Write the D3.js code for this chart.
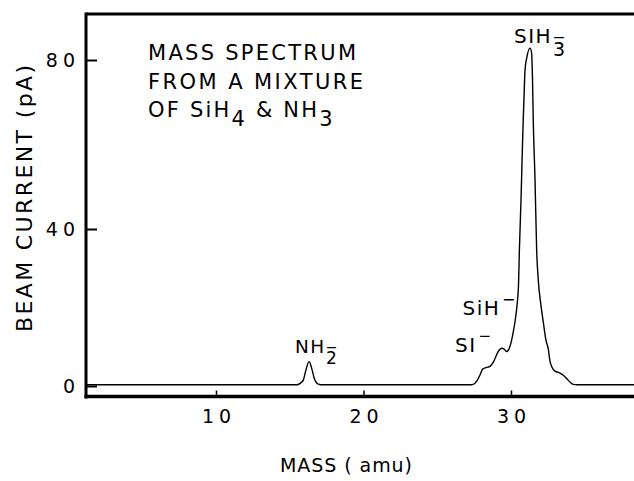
<!DOCTYPE html>
<html><head><meta charset="utf-8">
<script src="https://cdn.jsdelivr.net/npm/d3@7"></script>
<style>
html,body{margin:0;padding:0;background:#fff;}
svg{display:block;}
text{font-family:"DejaVu Sans",sans-serif;fill:#000;}
</style></head><body>
<svg id="chart" width="634" height="481"></svg>
<script>
// ---- data ----
const massTicks = [10, 20, 30];
const currentTicks = [0, 40, 80];
const mass = [1.2, 8, 15.5, 15.75, 15.92, 16.10, 16.31, 16.49, 16.66, 16.94, 17.2, 22, 27.3,
  27.44, 27.69, 27.90, 28.08, 28.31, 28.58, 28.85, 29.12, 29.37, 29.53, 29.71, 29.86, 30.00,
  30.14, 30.27, 30.41, 30.51, 30.57, 30.68, 30.77, 30.83, 30.90, 30.95, 31.08, 31.29, 31.40,
  31.46, 31.51, 31.63, 31.74, 31.85, 32.03, 32.19, 32.37, 32.53, 32.64, 32.78, 32.98, 33.32,
  33.59, 33.80, 34.00, 34.22, 34.50, 38.4];
const current = [0.3, 0.3, 0.3, 0.8, 1.5, 4.1, 6.2, 4.5, 2.0, 0.5, 0.3, 0.3, 0.3,
  0.4, 1.3, 2.8, 4.3, 4.7, 5.0, 6.4, 8.7, 9.6, 9.4, 8.8, 9.4, 11.0,
  13.5, 16.3, 20.6, 25.7, 34.7, 46.9, 58.7, 65.8, 72.9, 77.6, 80.7, 82.8, 81.7,
  75.3, 65.8, 51.6, 34.7, 27.0, 20.6, 16.3, 11.7, 9.4, 6.4, 4.8, 3.8, 3.3,
  2.6, 1.8, 1.0, 0.4, 0.3, 0.3];
const xTitle = "MASS ( amu)";
const yTitle = "BEAM CURRENT (pA)";
const noteLines = ["MASS SPECTRUM", "FROM A MIXTURE"];
const noteLine3 = ["OF SiH", "4", " & NH", "3"];
const peakNames = ["NH", "SI", "SiH", "SIH"];
const peakSubs = ["2", "", "", "3"];

// ---- layout ----
const svg = d3.select("#chart");
const x = d3.scaleLinear().domain([1.12, 38.34]).range([85, 634]);
const y = d3.scaleLinear().domain([0, 40, 80]).range([386, 229, 60]);
const frameLeft = 86, frameTop = 14, frameBottom = 396.5, frameRight = 634;

// frame
svg.append("line").attr("x1", frameLeft).attr("x2", frameLeft).attr("y1", frameTop - 1.5).attr("y2", frameBottom + 2)
  .attr("stroke", "#000").attr("stroke-width", 3);
svg.append("line").attr("x1", frameLeft).attr("x2", frameRight).attr("y1", frameTop).attr("y2", frameTop)
  .attr("stroke", "#000").attr("stroke-width", 3);
svg.append("line").attr("x1", frameLeft - 1.5).attr("x2", frameRight).attr("y1", frameBottom).attr("y2", frameBottom)
  .attr("stroke", "#000").attr("stroke-width", 3.5);

// axes
const yAxis = svg.append("g").attr("transform", `translate(${frameLeft},0)`)
  .call(d3.axisLeft(y).tickValues(currentTicks).tickSizeInner(-11).tickSizeOuter(0).tickPadding(6));
yAxis.select(".domain").remove();
yAxis.selectAll(".tick line").attr("stroke", "#000").attr("stroke-width", 2);
yAxis.selectAll(".tick text").attr("font-size", 19).attr("letter-spacing", 5)
  .attr("font-family", "DejaVu Sans").attr("fill", "#000");

const xAxis = svg.append("g").attr("transform", `translate(0,${frameBottom})`)
  .call(d3.axisBottom(x).tickValues(massTicks).tickSizeInner(-6).tickSizeOuter(0).tickPadding(13));
xAxis.select(".domain").remove();
xAxis.selectAll(".tick line").attr("stroke", "#000").attr("stroke-width", 1.5);
xAxis.selectAll(".tick text").attr("font-size", 19).attr("letter-spacing", 5).attr("dx", 2.5)
  .attr("font-family", "DejaVu Sans").attr("fill", "#000");

// titles
svg.append("text").attr("x", 280).attr("y", 472)
  .attr("font-size", 19).attr("textLength", 132).attr("lengthAdjust", "spacing").text(xTitle);
svg.append("text").attr("transform", "translate(32,332) rotate(-90)")
  .attr("font-size", 22).attr("textLength", 267).attr("lengthAdjust", "spacing").text(yTitle);

// note
const noteW = [208, 215];
noteLines.forEach((t, i) => {
  svg.append("text").attr("x", 148).attr("y", 60 + i * 28.5).attr("font-size", 21)
    .attr("textLength", noteW[i]).attr("lengthAdjust", "spacing").text(t);
});
const l3 = svg.append("text").attr("x", 148).attr("y", 117).attr("font-size", 21).attr("letter-spacing", 2.2);
l3.append("tspan").text(noteLine3[0]);
l3.append("tspan").attr("dy", 9).text(noteLine3[1]);
l3.append("tspan").attr("dy", -9).text(noteLine3[2]);
l3.append("tspan").attr("dy", 9).text(noteLine3[3]);

// trace
const pts = mass.map((m, i) => [m, current[i]]);
svg.append("path").datum(pts)
  .attr("d", d3.line().x(d => x(d[0])).y(d => y(d[1])).curve(d3.curveMonotoneX))
  .attr("fill", "none").attr("stroke", "#000").attr("stroke-width", 1.4).attr("stroke-linejoin", "round");

// peak labels: [nameX, nameY, fontSize, subX, subY, minusX, minusY, minusSize]
const peakLayout = [
  [295, 353.3, 18.5, 326, 363.5, 0, 0, 17],
  [455, 351.7, 20, 0, 0, 478.5, 341, 15],
  [462.5, 315, 20, 0, 0, 502, 305, 16],
  [514, 43.3, 20, 553, 55.5, 0, 0, 19]
];
peakNames.forEach((nm, i) => {
  const L = peakLayout[i];
  const t = svg.append("text").attr("x", L[0]).attr("y", L[1]).attr("font-size", L[2]);
  t.append("tspan").attr("letter-spacing", 1.5).text(nm);
  if (peakSubs[i]) {
    // charge bar drawn over the subscript with a combining overline
    t.append("tspan").attr("x", L[3]).attr("y", L[4]).attr("font-size", L[7]).text(peakSubs[i] + "\u0305");
  } else {
    t.append("tspan").attr("x", L[5]).attr("y", L[6]).attr("font-size", L[7]).text("\u2212");
  }
});
</script>
</body></html>
